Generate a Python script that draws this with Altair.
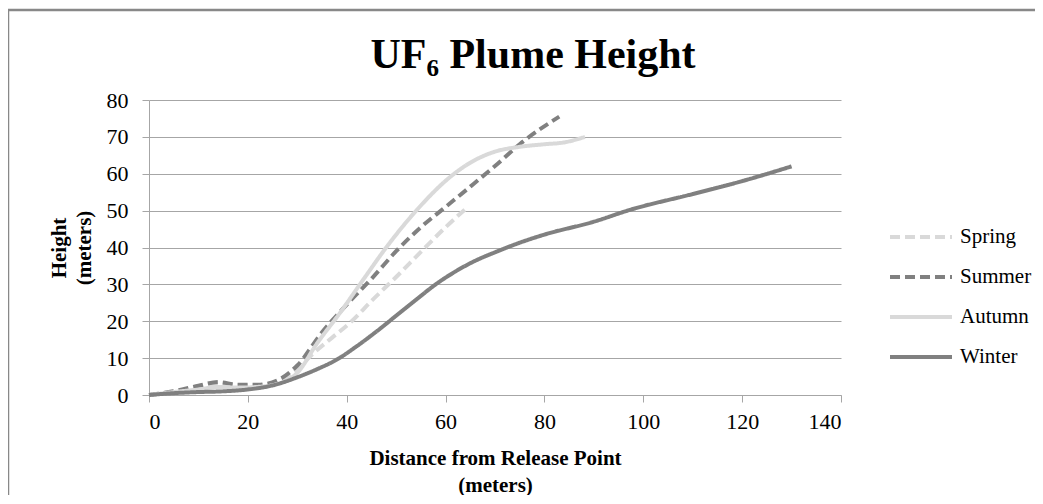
import altair as alt
import pandas as pd

seasons = ["Spring", "Summer", "Autumn", "Winter"]

spring_x = [0, 5, 10, 14, 18, 22, 26, 30, 33, 37, 41, 45, 50, 55, 60, 64.5]
spring_y = [0, 1, 2, 3.2, 2.6, 2.6, 3.6, 7, 11, 15.5, 20, 25.5, 32, 38.8, 45.5, 51]

summer_x = [0, 5, 10, 14, 18, 22, 26, 30, 35, 40, 45, 50, 55, 60, 65, 70.6, 75, 83]
summer_y = [0, 1, 2.5, 3.5, 2.8, 2.8, 4, 8, 17, 24.5, 31.5, 39, 45.5, 51, 56.5, 62.8, 68, 75.5]

autumn_x = [0, 5, 10, 14, 18, 22, 26, 30, 34, 38.6, 43.3, 48.1, 54.2, 60.9, 65, 70, 75, 80, 84, 88.2]
autumn_y = [0, 0.8, 1.5, 2.2, 2, 2.2, 3, 6, 14, 22.2, 31.2, 40.2, 50.2, 59.1, 63, 66, 67.3, 68, 68.5, 70]

winter_x = [0, 5, 10, 15, 20, 25, 30, 34, 38, 42, 46, 50, 54, 58, 62, 66, 70, 75, 80, 90, 97.3, 110, 120, 130]
winter_y = [0, 0.5, 0.8, 1, 1.5, 2.6, 4.8, 7, 9.6, 13.2, 17.2, 21.5, 25.8, 30, 33.5, 36.4, 38.7, 41.3, 43.5, 47, 50.2, 54.5, 58, 62]

x_ticks = [0, 20, 40, 60, 80, 100, 120, 140]
y_ticks = [0, 10, 20, 30, 40, 50, 60, 70, 80]

chart_title = "UF₆ Plume Height"

rows = []
for name, xs, ys in [("Spring", spring_x, spring_y), ("Summer", summer_x, summer_y),
                     ("Autumn", autumn_x, autumn_y), ("Winter", winter_x, winter_y)]:
    for i, (a, b) in enumerate(zip(xs, ys)):
        rows.append({"season": name, "distance": a, "height": b, "order": i})
df = pd.DataFrame(rows)

LIGHT = "#d9d9d9"
DARK = "#808080"
GRID = "#a6a6a6"
SERIF = "Liberation Serif"

legend_opts = dict(title=None, orient="none", legendX=739, legendY=127,
                   symbolType="stroke", symbolSize=3844, clipHeight=20,
                   symbolStrokeWidth=4, rowPadding=19,
                   labelOffset=6, labelFont=SERIF, labelFontSize=21,
                   labelColor="black", padding=0)

lines = alt.Chart(df).mark_line(interpolate="monotone", strokeWidth=4).encode(
    x=alt.X("distance:Q",
            scale=alt.Scale(domain=[0, 140], nice=False),
            axis=alt.Axis(values=x_ticks, grid=False,
                          title=["Distance from Release Point", "(meters)"],
                          titleLineHeight=27, titlePadding=15,
                          labelPadding=9)),
    y=alt.Y("height:Q",
            scale=alt.Scale(domain=[0, 80], nice=False),
            axis=alt.Axis(values=y_ticks, grid=True,
                          title=["Height", "(meters)"],
                          titleLineHeight=25, titlePadding=12,
                          labelPadding=14)),
    color=alt.Color("season:N",
                    scale=alt.Scale(domain=seasons, range=[LIGHT, DARK, LIGHT, DARK]),
                    legend=alt.Legend(**legend_opts)),
    strokeDash=alt.StrokeDash("season:N",
                              scale=alt.Scale(domain=seasons,
                                              range=[[10, 5], [10, 5], [1, 0], [1, 0]]),
                              legend=alt.Legend(**legend_opts)),
    order="order:Q",
)

one = pd.DataFrame({"t": [chart_title]})

border = alt.Chart(one).mark_rect(
    filled=False, stroke="#888888", strokeWidth=2.5
).encode(
    x=alt.value(-141), x2=alt.value(1100),
    y=alt.value(-90), y2=alt.value(700),
)

title = alt.Chart(one).mark_text(
    font=SERIF, fontSize=42, fontWeight="bold", color="black",
    align="center", baseline="alphabetic"
).encode(
    x=alt.value(384), y=alt.value(-32), text="t:N"
)

chart = alt.layer(border, title, lines).properties(
    width=692, height=295,
    autosize=alt.AutoSizeParams(type="none"),
    padding={"left": 141, "top": 92, "right": 194, "bottom": 100},
).configure_view(stroke=None).configure_axis(
    domainColor=GRID, tickColor=GRID, gridColor=GRID, tickSize=7,
    labelFont=SERIF, labelFontSize=22, labelColor="black",
    titleFont=SERIF, titleFontSize=21, titleFontWeight="bold", titleColor="black",
)

chart.save("out.html", embed_options={"renderer": "svg", "actions": False})
